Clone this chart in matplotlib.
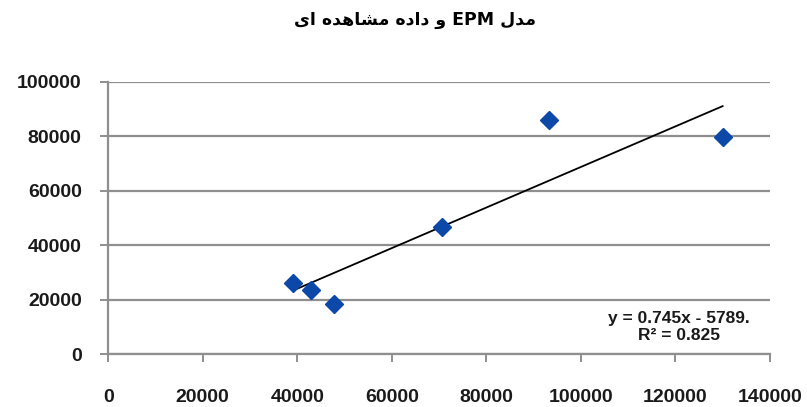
import matplotlib.pyplot as plt
import numpy as np

# observed data (EPM model vs observed)
x_model = [39100, 42900, 47800, 70600, 93200, 130000]
y_obs = [26100, 23500, 18400, 46700, 86000, 79800]

slope = 0.745
intercept = -5789.0
r2 = 0.825

xticks = [0, 20000, 40000, 60000, 80000, 100000, 120000, 140000]
yticks = [0, 20000, 40000, 60000, 80000, 100000]

# Persian title, written in visual order with presentation forms
title = ("\uFEEF\uFE8D \uFEE9\uFEAA\uFEEB\uFE8E\uFEB8\uFEE3 "
         "\uFEE9\uFEA9\uFE8D\uFEA9 \uFEED EPM \uFEDD\uFEAA\uFEE3")

fig = plt.figure(figsize=(8.07, 4.07), dpi=100)
ax = fig.add_axes([0.134, 0.130, 0.820, 0.669])

ax.set_xlim(0, 140000)
ax.set_ylim(0, 100000)
ax.set_xticks(xticks)
ax.set_yticks(yticks)

ax.grid(axis='y', color='#8f8f8f', linewidth=1.6)
ax.set_axisbelow(True)
for s in ['top', 'right']:
    ax.spines[s].set_visible(False)
for s in ['left', 'bottom']:
    ax.spines[s].set_color('#8f8f8f')
    ax.spines[s].set_linewidth(1.6)
ax.tick_params(axis='both', direction='out', length=6, width=1.4, color='#8f8f8f',
               labelsize=14)
ax.tick_params(axis='y', pad=13)
ax.tick_params(axis='x', pad=19)
for lab in ax.get_xticklabels() + ax.get_yticklabels():
    lab.set_fontweight('bold')
    lab.set_fontfamily('Liberation Sans')
    lab.set_color('#1a1a1a')

# trendline
xs = np.array([min(x_model), max(x_model)])
ax.plot(xs, slope * xs + intercept, color='black', linewidth=1.3, zorder=2)

ax.plot(x_model, y_obs, linestyle='none', marker='D', markersize=9,
        color='#0b48a8', zorder=3, clip_on=False)

ax.text(0.862, 0.099, 'y = 0.745x - 5789.\nR\u00b2 = 0.825', transform=ax.transAxes,
        ha='center', va='center', fontsize=12.5, family='Liberation Sans',
        fontweight='bold', linespacing=1.2, color='#1a1a1a')

fig.text(0.514, 0.95, title, ha='center', va='center', fontsize=12.5,
         fontweight='bold', family=['DejaVu Sans'])

fig.savefig('out.png', dpi=100)
